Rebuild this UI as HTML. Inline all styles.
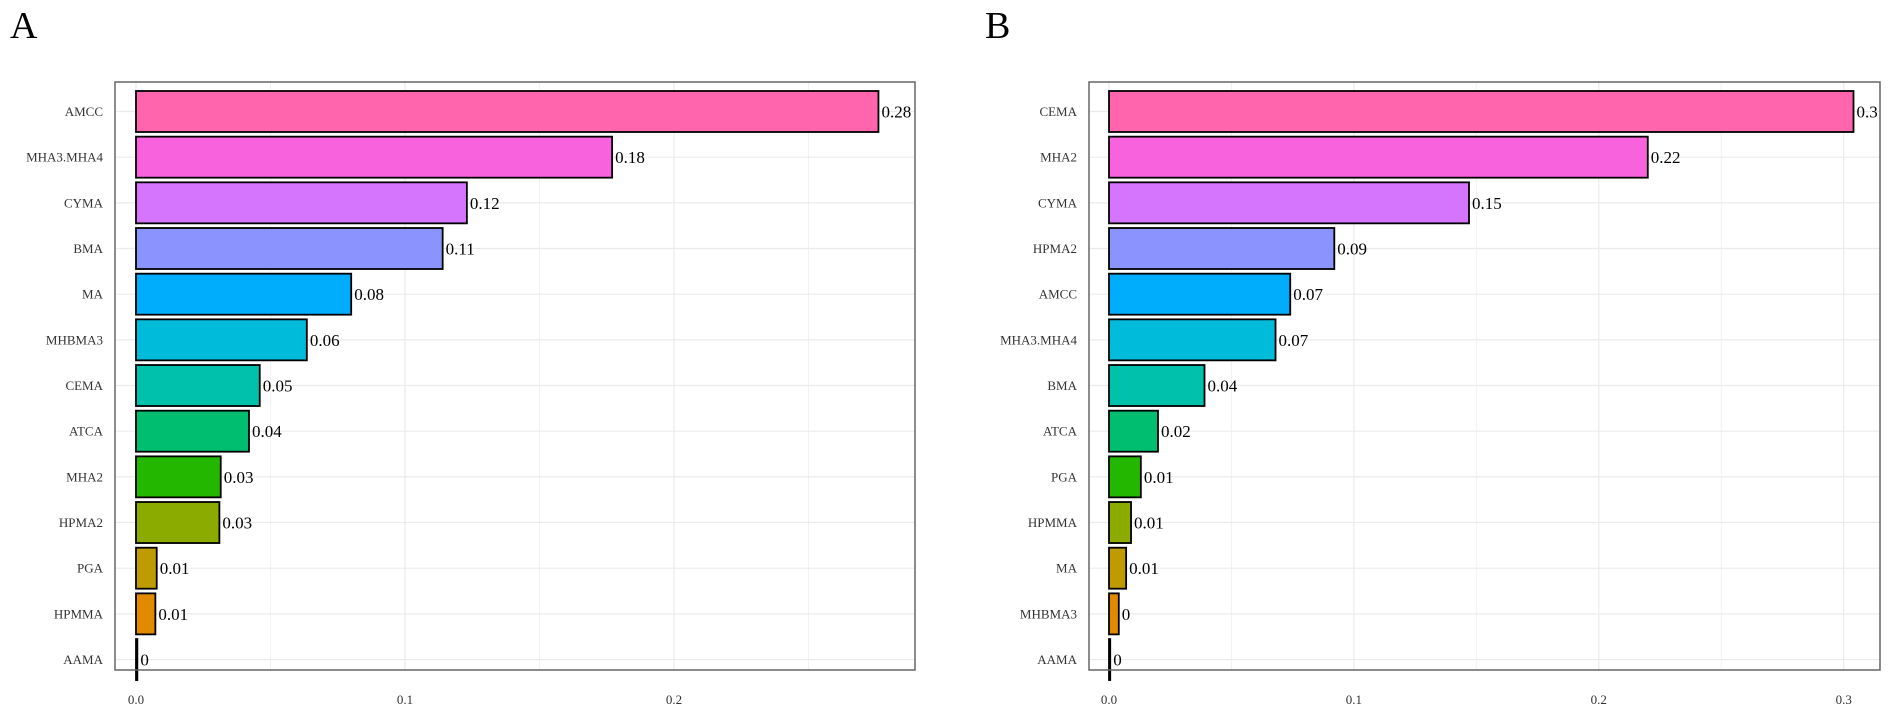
<!DOCTYPE html>
<html><head><meta charset="utf-8"><style>
html,body{margin:0;padding:0;background:#fff;}
svg{display:block;font-family:"Liberation Serif",serif;}
</style></head><body>
<svg id="chart" width="1901" height="713">
<text x="10" y="38" font-size="38">A</text>
<text x="985" y="38" font-size="38">B</text>
</svg>
<script>
const catsA = ["AMCC","MHA3.MHA4","CYMA","BMA","MA","MHBMA3","CEMA","ATCA","MHA2","HPMA2","PGA","HPMMA","AAMA"];
const valsA = [0.276,0.177,0.123,0.114,0.080,0.0635,0.046,0.042,0.0315,0.031,0.0077,0.0072,0.0005];
const catsB = ["CEMA","MHA2","CYMA","HPMA2","AMCC","MHA3.MHA4","BMA","ATCA","PGA","HPMMA","MA","MHBMA3","AAMA"];
const valsB = [0.304,0.22,0.147,0.092,0.074,0.068,0.039,0.02,0.013,0.009,0.007,0.004,0.0005];
const ticksA = [0,0.1,0.2];
const tickLabelsA = ["0.0","0.1","0.2"];
const ticksB = [0,0.1,0.2,0.3];
const tickLabelsB = ["0.0","0.1","0.2","0.3"];
const colors = ["#FF65AC","#F962DD","#D575FE","#8B93FF","#00ACFC","#00BBDA","#00C1AB","#00BE70","#24B700","#8CAB00","#BE9C00","#E18A00","#F8766D"];
const NS="http://www.w3.org/2000/svg";
const svg=document.getElementById('chart');
function mk(tag,attrs,parent){const e=document.createElementNS(NS,tag);for(const k in attrs)e.setAttribute(k,attrs[k]);(parent||svg).appendChild(e);return e;}
function panel(id,cats,vals,ticks,tlabels,box){
  const g=mk('g',{});
  
  
  const x=v=>box.x0+v*box.scale;
  const y=i=>box.top+box.first+i*box.step;
  for(let i=0;i<ticks.length;i++){
    const mv=ticks[i]+0.05; if(x(mv)<box.right){const l=mk('line',{x1:x(mv),x2:x(mv),y1:box.top,y2:box.bottom,stroke:'#f2f2f2','stroke-width':1},g);
    }
  }
  ticks.forEach((t,i)=>{
    const l=mk('line',{x1:x(t),x2:x(t),y1:box.top,y2:box.bottom,stroke:'#ebebeb','stroke-width':1.2},g);
    
    const tx=mk('text',{x:x(t),y:box.bottom+34,'font-size':13,'text-anchor':'middle',fill:'#333'},g);
    tx.textContent=tlabels[i];
    
  });
  cats.forEach((c,i)=>{
    const l=mk('line',{x1:box.left,x2:box.right,y1:y(i),y2:y(i),stroke:'#ebebeb','stroke-width':1.2},g);
    
  });
  cats.forEach((c,i)=>{
    const lb=mk('text',{x:box.left-12,y:y(i)+4.5,'font-size':13,'text-anchor':'end',fill:'#333'},g);
    lb.textContent=c;
    
    const w=Math.max(vals[i]*box.scale,0.5);
    const r=mk('rect',{x:box.x0,y:y(i)-20.5,width:w,height:41,fill:colors[i],stroke:'#000','stroke-width':1.8},g);
    
    const vt=mk('text',{x:x(vals[i])+3,y:y(i)+6,'font-size':17,fill:'#000'},g);
    vt.textContent=String(Math.round(vals[i]*100)/100);
    
  });
  const b=mk('rect',{x:box.left,y:box.top,width:box.right-box.left,height:box.bottom-box.top,fill:'none',stroke:'#666','stroke-width':1.5},g);
  
}
panel('a',catsA,valsA,ticksA,tickLabelsA,{left:115,right:915,top:82,bottom:670,x0:136,scale:2690,first:29.5,step:45.67});
panel('b',catsB,valsB,ticksB,tickLabelsB,{left:1089,right:1880,top:82,bottom:670,x0:1109,scale:2449,first:29.5,step:45.67});
</script>
</body></html>
